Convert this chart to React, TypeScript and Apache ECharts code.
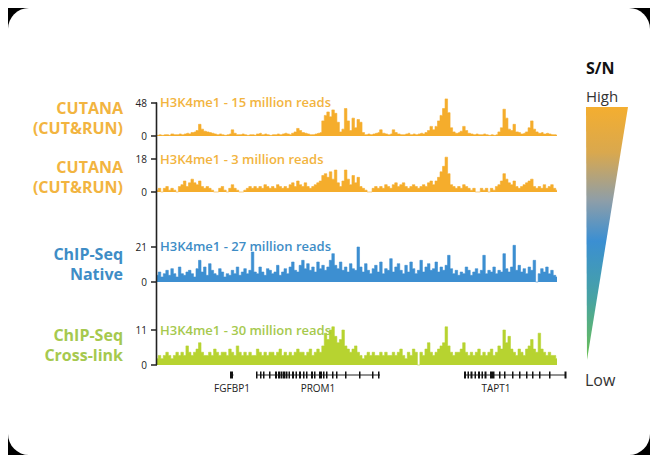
import React, { useEffect, useRef } from "react";
import * as echarts from "echarts";

// genomic bins (x categories)
const bins: number[] = Array.from({ length: 160 }, (_, i) => i);

const trackNames = ["CUTANA\n(CUT&RUN)", "CUTANA\n(CUT&RUN)", "ChIP-Seq\nNative", "ChIP-Seq\nCross-link"];
const trackTitles = [
  "H3K4me1 - 15 million reads",
  "H3K4me1 - 3 million reads",
  "H3K4me1 - 27 million reads",
  "H3K4me1 - 30 million reads",
];
const trackMax = [48, 18, 21, 11];

const cutrun15 = [
  1, 2, 1, 2, 2, 1, 3, 2, 2, 3,
  2, 3, 4, 3, 5, 6, 8, 17, 10, 7,
  6, 5, 4, 3, 2, 3, 2, 1, 2, 3,
  9, 4, 2, 2, 3, 2, 1, 2, 2, 1,
  3, 4, 2, 3, 2, 1, 2, 2, 3, 2,
  3, 4, 3, 2, 4, 6, 11, 8, 5, 4,
  3, 2, 2, 3, 4, 5, 22, 30, 35, 28,
  38, 33, 20, 6, 10, 40, 22, 8, 26, 12,
  24, 20, 5, 2, 3, 2, 3, 4, 5, 9,
  4, 3, 2, 3, 9, 5, 3, 2, 2, 3,
  4, 2, 3, 2, 3, 4, 3, 5, 8, 14,
  9, 14, 22, 30, 40, 54, 34, 12, 6, 4,
  5, 7, 14, 8, 4, 3, 2, 3, 2, 2,
  3, 2, 1, 2, 1, 2, 6, 12, 39, 26,
  10, 8, 17, 6, 5, 3, 4, 6, 12, 22,
  10, 6, 4, 5, 3, 4, 3, 2, 2, 1,
];

const cutrun3 = [
  1, 2, 0, 2, 3, 1, 2, 1, 0, 3,
  4, 6, 3, 5, 7, 5, 4, 6, 3, 2,
  3, 2, 1, 0, 0, 2, 3, 1, 0, 2,
  4, 2, 1, 0, 0, 1, 2, 3, 2, 3,
  2, 3, 2, 4, 3, 2, 3, 2, 4, 3,
  2, 3, 2, 4, 5, 3, 6, 4, 3, 5,
  3, 2, 3, 4, 5, 6, 9, 10, 8, 11,
  7, 12, 5, 3, 6, 12, 7, 4, 9, 5,
  8, 3, 2, 1, 0, 0, 2, 3, 2, 3,
  2, 4, 3, 2, 4, 5, 3, 4, 5, 3,
  2, 3, 4, 3, 2, 3, 4, 3, 5, 6,
  4, 6, 8, 11, 14, 19, 10, 4, 3, 2,
  3, 2, 4, 3, 2, 1, 2, 0, 0, 2,
  1, 2, 0, 2, 1, 3, 4, 6, 10, 7,
  5, 4, 6, 3, 2, 3, 4, 5, 6, 7,
  3, 2, 3, 2, 4, 2, 3, 4, 2, 1,
];

const chipNative = [
  4, 6, 3, 5, 7, 4, 8, 5, 3, 9,
  5, 4, 6, 7, 5, 3, 8, 13, 6, 9,
  4, 11, 7, 5, 4, 8, 6, 3, 5, 4,
  7, 5, 9, 4, 6, 8, 5, 7, 18, 6,
  5, 9, 6, 4, 8, 7, 5, 6, 10, 4,
  6, 8, 5, 9, 12, 7, 6, 10, 13, 8,
  11, 7, 9, 6, 12, 8, 10, 7, 9, 13,
  17, 10, 8, 12, 7, 9, 6, 11, 8, 7,
  21, 9, 6, 11, 7, 5, 8, 10, 6, 12,
  5, 8, 7, 14, 6, 9, 11, 7, 5, 10,
  6, 12, 8, 5, 7, 13, 6, 9, 11, 7,
  8, 12, 6, 9, 7, 10, 16, 8, 5, 7,
  4, 6, 5, 9, 7, 4, 6, 8, 5, 7,
  16, 5, 7, 6, 9, 5, 7, 6, 17, 8,
  6, 9, 22, 7, 10, 6, 8, 5, 9, 7,
  13, 0, 5, 8, 6, 9, 5, 7, 4, 3,
];

const chipCross = [
  2, 3, 2, 3, 4, 3, 2, 3, 4, 3,
  4, 3, 6, 4, 3, 4, 5, 7, 4, 3,
  3, 4, 3, 5, 4, 3, 4, 4, 3, 5,
  4, 3, 6, 4, 3, 4, 3, 4, 3, 3,
  5, 4, 3, 4, 3, 4, 4, 3, 4, 5,
  3, 4, 3, 4, 3, 4, 5, 4, 4, 3,
  4, 5, 3, 4, 5, 4, 6, 10, 8, 11,
  12, 9, 7, 8, 11, 6, 5, 4, 5, 6,
  4, 3, 2, 3, 4, 3, 4, 3, 3, 4,
  3, 4, 3, 3, 4, 3, 4, 5, 3, 2,
  4, 3, 5, 4, 0, 4, 3, 5, 7, 4,
  3, 4, 5, 6, 7, 12, 6, 4, 3, 4,
  4, 5, 7, 4, 3, 4, 3, 4, 5, 3,
  4, 3, 4, 5, 3, 4, 6, 5, 11, 7,
  9, 5, 4, 3, 5, 4, 3, 5, 6, 8,
  5, 4, 10, 5, 4, 3, 4, 3, 3, 2,
];

// genes: name, start, end (bin units), exons as [start, width]
const geneNames = ["FGFBP1", "PROM1", "TAPT1"];
const geneStart = [29.2, 39.6, 122.8];
const geneEnd = [30.6, 89.2, 163.6];
const geneLabelPos = [30, 64.4, 135.6];
const geneExons: number[][][] = [
  [[29.2, 1.2]],
  [
    [39.6, 0.6], [41.2, 0.6], [42.4, 0.6], [44.8, 0.6], [47.2, 0.8], [48.4, 0.8], [49.4, 0.8],
    [50.4, 0.8], [51.4, 0.8], [52.6, 0.6], [54, 0.8], [55.4, 0.6], [56.8, 0.8], [58.4, 0.6],
    [59.6, 0.6], [61.6, 0.8], [62.8, 0.6], [64.8, 1.2], [66.4, 0.6], [67.6, 0.6], [70, 0.6],
    [71.6, 0.6], [75.2, 0.6], [80.8, 0.6], [86, 0.6], [88.4, 0.6],
  ],
  [
    [122.8, 0.8], [124.2, 0.6], [125.4, 0.8], [127, 0.6], [128.4, 0.8], [129.8, 0.6], [131, 0.8],
    [133.2, 1.8], [136.8, 0.6], [138.8, 0.6], [142, 0.6], [144.8, 0.6], [147.6, 0.6], [150, 0.6],
    [152.8, 0.6], [156.8, 0.6], [163, 0.8],
  ],
];

const trackData = [cutrun15, cutrun3, chipNative, chipCross];
const barColors = ["#F5AD2C", "#F5AD2C", "#3D8FD1", "#B7D330"];
const textColors = ["#F2B440", "#F2B440", "#3E8DC6", "#A6C94E"];

const FONT = "'Open Sans', 'Noto Sans', sans-serif";

export default function App() {
  const ref = useRef<HTMLDivElement>(null);
  useEffect(() => {
    if (!ref.current) return;
    const chart = echarts.init(ref.current, undefined, { renderer: "svg" });

    const gridTops = [103, 159, 247, 330];
    const gridHeights = [33, 33, 35, 35];
    const gridLeft = 157;
    const gridWidth = 400;
    const nameY = [118, 177, 264, 345];
    const titleY = [102, 159, 246, 330];

    const grids: any[] = gridTops.map((t, i) => ({
      left: gridLeft,
      top: t,
      width: gridWidth,
      height: gridHeights[i],
      containLabel: false,
    }));
    grids.push({ left: gridLeft, top: 369, width: gridWidth, height: 12 });

    const xAxes: any[] = gridTops.map((_, i) => ({
      type: "category",
      gridIndex: i,
      data: bins,
      show: false,
      boundaryGap: false,
    }));
    xAxes.push({ type: "value", gridIndex: 4, min: 0, max: 160, show: false });

    const yAxes: any[] = gridTops.map((_, i) => ({
      type: "value",
      gridIndex: i,
      min: 0,
      max: trackMax[i],
      interval: trackMax[i],
      axisLine: { show: false },
      axisTick: { show: true, length: 6, lineStyle: { color: "#222", width: 1.5 } },
      splitLine: { show: false },
      axisLabel: { fontSize: 10, color: "#222", margin: 10, fontFamily: FONT },
    }));
    yAxes.push({ type: "value", gridIndex: 4, min: 0, max: 1, show: false });

    const series: any[] = trackData.map((d, i) => ({
      type: "line",
      xAxisIndex: i,
      yAxisIndex: i,
      data: d,
      step: "middle",
      symbol: "none",
      clip: false,
      silent: true,
      lineStyle: { color: barColors[i], width: 0.6 },
      areaStyle: { color: barColors[i], opacity: 1 },
    }));

    series.push({
      type: "custom",
      xAxisIndex: 4,
      yAxisIndex: 4,
      clip: false,
      silent: true,
      data: geneNames.map((n, i) => [geneStart[i], geneEnd[i], i]),
      renderItem: (params: any, api: any) => {
        const gi = api.value(2);
        const p0 = api.coord([api.value(0), 0.5]);
        const p1 = api.coord([api.value(1), 0.5]);
        const lp = api.coord([geneLabelPos[gi], 0.5]);
        const unit = api.size([1, 0])[0];
        const children: any[] = [
          {
            type: "line",
            shape: { x1: p0[0], y1: p0[1], x2: p1[0], y2: p1[1] },
            style: { stroke: "#222", lineWidth: 1 },
          },
        ];
        geneExons[gi].forEach((ex) => {
          const c = api.coord([ex[0], 0.5]);
          children.push({
            type: "rect",
            shape: { x: c[0], y: c[1] - 3.5, width: Math.max(1.4, ex[1] * unit), height: 7 },
            style: { fill: "#111" },
          });
        });
        children.push({
          type: "text",
          x: lp[0],
          y: lp[1] + 13,
          style: {
            text: geneNames[gi],
            fill: "#222",
            font: `10px ${FONT}`,
            textAlign: "center",
            textVerticalAlign: "middle",
          },
        });
        return { type: "group", children };
      },
    });

    const graphic: any[] = [
      { type: "rect", shape: { x: 8, y: 8, width: 642, height: 447 }, style: { fill: "#000" }, z: -10 },
      { type: "rect", shape: { x: 8, y: 8, width: 642, height: 447, r: 21 }, style: { fill: "#fff" }, z: -9 },
      {
        type: "line",
        shape: { x1: 156.5, y1: 102.5, x2: 156.5, y2: 365 },
        style: { stroke: "#222", lineWidth: 1.6 },
        z: 10,
      },
    ];
    trackNames.forEach((nm, i) => {
      graphic.push({
        type: "text",
        x: 123,
        y: nameY[i],
        style: {
          text: nm,
          fill: textColors[i],
          font: `bold 16px ${FONT}`,
          lineHeight: 20,
          textAlign: "right",
          textVerticalAlign: "middle",
        },
      });
      graphic.push({
        type: "text",
        x: 160,
        y: titleY[i],
        z: 20,
        style: {
          text: trackTitles[i],
          fill: textColors[i],
          font: `600 13px ${FONT}`,
          textAlign: "left",
          textVerticalAlign: "middle",
        },
      });
    });
    graphic.push(
      {
        type: "text",
        x: 586,
        y: 68,
        style: { text: "S/N", fill: "#111", font: `bold 16px ${FONT}`, textVerticalAlign: "middle" },
      },
      {
        type: "text",
        x: 586,
        y: 96,
        style: { text: "High", fill: "#333", font: `15px ${FONT}`, textVerticalAlign: "middle" },
      },
      {
        type: "text",
        x: 585,
        y: 380,
        style: { text: "Low", fill: "#333", font: `16px ${FONT}`, textVerticalAlign: "middle" },
      },
      {
        type: "polygon",
        shape: { points: [[586, 107], [628, 107], [587, 360]] },
        style: {
          fill: new echarts.graphic.LinearGradient(0, 0, 0, 1, [
            { offset: 0, color: "#F4AE30" },
            { offset: 0.18, color: "#D9A84E" },
            { offset: 0.37, color: "#8E9EA8" },
            { offset: 0.53, color: "#3B8FD2" },
            { offset: 0.76, color: "#47A3A2" },
            { offset: 1, color: "#6CC052" },
          ]),
        },
      }
    );

    chart.setOption({
      animation: false,
      backgroundColor: "transparent",
      grid: grids,
      xAxis: xAxes,
      yAxis: yAxes,
      series,
      graphic,
    });
    return () => chart.dispose();
  }, []);

  return (
    <div
      ref={ref}
      style={{ position: "fixed", left: 0, top: 0, width: 650, height: 455, background: "#fff" }}
    />
  );
}
